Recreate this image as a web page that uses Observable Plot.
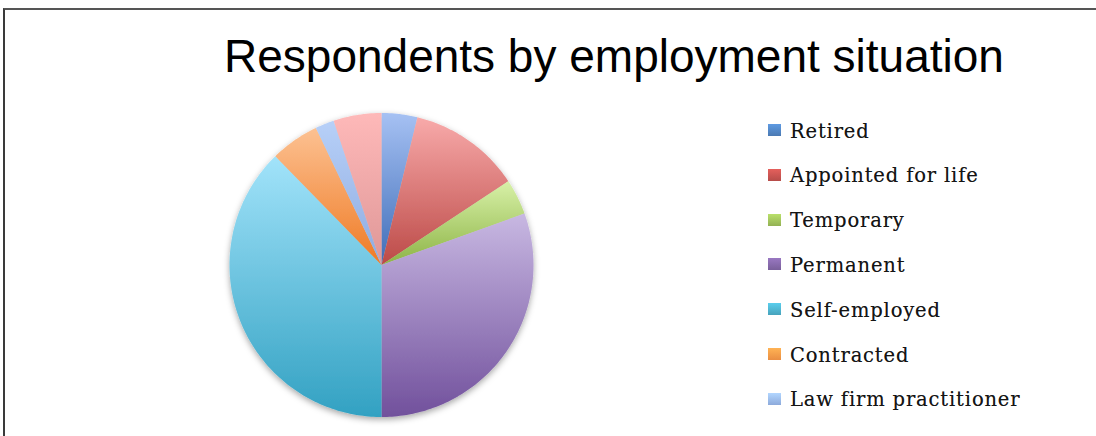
<!DOCTYPE html>
<html>
<head>
<meta charset="utf-8">
<script src="https://cdn.jsdelivr.net/npm/d3@7"></script>
<script src="https://cdn.jsdelivr.net/npm/@observablehq/plot@0.6"></script>
<style>
  html, body { margin: 0; padding: 0; background: #fff; }
  body { width: 1096px; height: 436px; position: relative; overflow: hidden; }
  #frame { position: absolute; left: 3px; top: 8px; width: 1200px; height: 600px;
           border-top: 2px solid #555; border-left: 2px solid #3a3a3a; box-sizing: border-box; }
  #title { position: absolute; left: 224px; top: 32.8px; font-family: "Liberation Sans", Arial, sans-serif;
           font-size: 46px; line-height: 46px; color: #000; white-space: nowrap; }
  #chart { position: absolute; left: 0; top: 0; }
  .lg { position: absolute; left: 768px; height: 19.5px; white-space: nowrap;
        font-family: "DejaVu Serif", "Liberation Serif", serif; font-size: 19.5px; line-height: 19.5px;
        letter-spacing: 0.85px; color: #151515; text-shadow: 0 0 0.6px rgba(0,0,0,0.45); }
  .lg .sw { position: absolute; left: 0; top: 2.5px; width: 13px; height: 12px; }
  .lg .tx { position: absolute; left: 22px; top: 0; }
</style>
</head>
<body>
<div id="frame"></div>
<div id="title">Respondents by employment situation</div>
<div id="chart"></div>
<div id="legend"></div>
<script>
// ---- data ----
const categories = ["Retired", "Appointed for life", "Temporary", "Permanent",
                    "Self-employed", "Contracted", "Law firm practitioner", "Other"];
const shares = [3.8, 11.9, 3.8, 30.5, 37.7, 5.2, 2.0, 5.1];
const legendLabels = categories.slice(0, 7); // the 8th entry is cut off in the reference

// ---- styles ----
const topColors    = ["#a6c1f3", "#f8aaaa", "#d8f1a8", "#c8b8e2", "#a2e3fa", "#fcc192", "#b7d0f8", "#feb9b9"];
const bottomColors = ["#3f6db8", "#bc4a47", "#8db446", "#71509c", "#32a1c2", "#ef7a24", "#8eabe0", "#df9797"];
const legendColors = ["#4f81bd", "#c0504d", "#9bbb59", "#8064a2", "#4bacc6", "#f79646", "#95b3e7"];

const rows = categories.map((c, i) => ({category: c, share: shares[i]}));
const arcs = d3.pie().sort(null).value(d => d.share)(rows);

const features = arcs.map(a => {
  const ring = [[0, 0]];
  const steps = Math.max(4, Math.ceil((a.endAngle - a.startAngle) / (Math.PI / 180)));
  for (let k = 0; k <= steps; k++) {
    const t = a.startAngle + (a.endAngle - a.startAngle) * k / steps;
    ring.push([Math.sin(t), Math.cos(t)]);
  }
  ring.push([0, 0]);
  return {type: "Feature", properties: {category: a.data.category},
          geometry: {type: "Polygon", coordinates: [ring]}};
});

const gradIds = categories.map((c, i) => "slicegrad" + i);

const svg = Plot.plot({
  width: 1096,
  height: 436,
  marginLeft: 229,
  marginRight: 563,
  marginTop: 112.5,
  marginBottom: 19.5,
  style: {background: "transparent", overflow: "visible"},
  projection: {type: "reflect-y", domain: {type: "MultiPoint", coordinates: [[-1, -1], [1, 1]]}},
  color: {type: "ordinal", domain: categories, range: gradIds.map(id => `url(#${id})`)},
  marks: [
    Plot.geo(features, {fill: d => d.properties.category, stroke: "none"})
  ]
});

// gradients + soft shadow
const s = d3.select(svg);
const defs = s.insert("defs", ":first-child");
gradIds.forEach((id, i) => {
  const g = defs.append("linearGradient").attr("id", id)
    .attr("x1", 0).attr("y1", 0).attr("x2", 0).attr("y2", 1);
  g.append("stop").attr("offset", "0%").attr("stop-color", topColors[i]);
  g.append("stop").attr("offset", "100%").attr("stop-color", bottomColors[i]);
});
const f = defs.append("filter").attr("id", "pieshadow")
  .attr("x", "-10%").attr("y", "-10%").attr("width", "120%").attr("height", "125%");
f.append("feDropShadow").attr("dx", 0).attr("dy", 2.5).attr("stdDeviation", 3)
  .attr("flood-color", "#000").attr("flood-opacity", 0.35);
s.selectAll("g[aria-label='geo']").attr("filter", "url(#pieshadow)");

document.getElementById("chart").appendChild(svg);

// legend
const legend = document.getElementById("legend");
legendLabels.forEach((label, i) => {
  const item = document.createElement("div");
  item.className = "lg";
  item.style.top = (121.5 + i * 44.8) + "px";
  const sw = document.createElement("div");
  sw.className = "sw";
  const c = d3.color(legendColors[i]);
  sw.style.background = `linear-gradient(${c.brighter(0.5)}, ${c.darker(0.15)})`;
  const tx = document.createElement("div");
  tx.className = "tx";
  tx.textContent = label;
  item.appendChild(sw);
  item.appendChild(tx);
  legend.appendChild(item);
});
</script>
</body>
</html>
